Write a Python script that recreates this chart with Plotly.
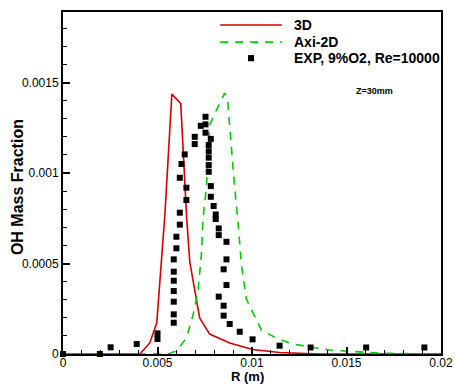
import plotly.graph_objects as go

# 3D simulation profile of OH mass fraction vs radius
r_3d = [0.0, 0.00407, 0.00459, 0.00496, 0.00539, 0.00576, 0.00623, 0.00655,
        0.00671, 0.00723, 0.00776, 0.00882, 0.01003, 0.01146, 0.01357, 0.02]
oh_3d = [0.0, 0.0, 0.000061, 0.000171, 0.000768, 0.001436, 0.001384, 0.00074,
         0.000508, 0.000199, 0.00011, 0.000061, 0.000025, 0.000008, 0.0, 0.0]

# Axisymmetric 2D simulation profile
r_2d = [0.0, 0.00554, 0.0060, 0.00653, 0.00688, 0.00714, 0.00732, 0.00741,
        0.00759, 0.00776, 0.00812, 0.00855, 0.00871, 0.00891, 0.00908, 0.00926,
        0.00944, 0.0097, 0.01014, 0.01049, 0.01129, 0.01215, 0.0141, 0.0169, 0.02]
oh_2d = [0.0, 0.0, 0.000017, 0.000088, 0.000215, 0.000343, 0.000547, 0.000751,
         0.000923, 0.001265, 0.001348, 0.001442, 0.001403, 0.001127, 0.000923,
         0.000729, 0.000492, 0.000304, 0.000204, 0.000133, 0.000088, 0.000055,
         0.000022, 0.000004, 0.0]

# Experimental measurements
r_exp = [0.0, 0.00195, 0.00252, 0.0039, 0.005, 0.005,
         0.00586, 0.00586, 0.00586, 0.00586, 0.00586, 0.00586, 0.00586,
         0.006, 0.006, 0.00618, 0.00618, 0.00618, 0.00653, 0.00653,
         0.00627, 0.00644, 0.00697, 0.00697, 0.00729,
         0.00754, 0.00754, 0.00754, 0.00782,
         0.00771, 0.00771, 0.00771, 0.00771, 0.00771,
         0.00782, 0.00782, 0.00797, 0.00808, 0.00808, 0.00824, 0.00824,
         0.00865, 0.00865, 0.00865, 0.0085, 0.0085, 0.0085, 0.00824,
         0.00882, 0.00935, 0.01003, 0.01146, 0.0131, 0.01604, 0.01912]
oh_exp = [0.0, 0.0, 0.000037, 0.000055, 0.000114, 0.000083,
          0.000523, 0.000455, 0.000405, 0.000348, 0.000289, 0.000219, 0.000173,
          0.000648, 0.000584, 0.000781, 0.000715, 0.000974, 0.000919, 0.000851,
          0.00105, 0.001103, 0.0012, 0.00116, 0.001261,
          0.001311, 0.001269, 0.001223, 0.001189,
          0.001155, 0.00112, 0.001085, 0.001044, 0.001007,
          0.000928, 0.000869, 0.000818, 0.000771, 0.000746, 0.000694, 0.000657,
          0.00062, 0.000523, 0.000381, 0.000468, 0.000267, 0.000212, 0.000317,
          0.000166, 0.000123, 0.000081, 0.000046, 0.000036, 0.000036, 0.000036]

series_names = ["3D", "Axi-2D", "EXP, 9%O2, Re=10000"]
x_ticks = [0, 0.005, 0.01, 0.015, 0.02]
x_tick_text = ["0", "0.005", "0.01", "0.015", "0.02"]
y_ticks = [0, 0.0005, 0.001, 0.0015]
y_tick_text = ["0", "0.0005", "0.001", "0.0015"]

FONT = "Liberation Sans, Arial, sans-serif"
RED = "#d40000"
GREEN = "#00cc00"

fig = go.Figure()
fig.add_trace(go.Scatter(x=r_3d, y=oh_3d, mode="lines", name=series_names[0],
                         line=dict(color=RED, width=1.6), showlegend=False))
fig.add_trace(go.Scatter(x=r_2d, y=oh_2d, mode="lines", name=series_names[1],
                         line=dict(color=GREEN, width=1.6, dash="8px,7px"),
                         showlegend=False))
fig.add_trace(go.Scatter(x=r_exp, y=oh_exp, mode="markers", name=series_names[2],
                         marker=dict(symbol="square", size=6, color="black"),
                         cliponaxis=False, showlegend=False))

# Hand-placed legend block in the upper right
legend_rows = [0.962, 0.912, 0.865]
sample_x0, sample_x1, text_x = 0.416, 0.579, 0.606
fig.add_shape(type="line", xref="paper", yref="paper", x0=sample_x0, x1=sample_x1,
              y0=legend_rows[0], y1=legend_rows[0], line=dict(color=RED, width=1.6))
fig.add_shape(type="line", xref="paper", yref="paper", x0=sample_x0, x1=sample_x1,
              y0=legend_rows[1], y1=legend_rows[1],
              line=dict(color=GREEN, width=1.6, dash="8px,7px"))
fig.add_shape(type="rect", xref="paper", yref="paper",
              x0=(sample_x0 + sample_x1) / 2 - 0.008, x1=(sample_x0 + sample_x1) / 2 + 0.008,
              y0=legend_rows[2] - 0.009, y1=legend_rows[2] + 0.009,
              fillcolor="black", line=dict(width=0))
for name, yrow in zip(series_names, legend_rows):
    fig.add_annotation(xref="paper", yref="paper", x=text_x, y=yrow, text=f"<b>{name}</b>",
                       showarrow=False, xanchor="left", yanchor="middle",
                       font=dict(family=FONT, size=14, color="black"))

fig.add_annotation(xref="paper", yref="paper", x=0.824, y=0.77, text="<b>Z=30mm</b>",
                   showarrow=False, xanchor="center", yanchor="middle",
                   font=dict(family=FONT, size=9, color="black"))

# Axis titles placed as annotations so they sit close to the tick labels
fig.add_annotation(xref="paper", yref="paper", x=0.488, y=-0.0906, text="<b>R (m)</b>",
                   showarrow=False, xanchor="center", yanchor="bottom", borderpad=0,
                   font=dict(family=FONT, size=13, color="black"))
fig.add_annotation(xref="paper", yref="paper", x=-0.1217, y=0.488,
                   text="<b>OH Mass Fraction</b>", textangle=-90,
                   showarrow=False, xanchor="center", yanchor="middle",
                   font=dict(family=FONT, size=16, color="black"))

axis_common = dict(showline=True, linecolor="black", linewidth=2, mirror=True,
                   ticks="inside", ticklen=7, tickwidth=1.5, tickcolor="black",
                   showgrid=False, zeroline=False, automargin=False,
                   tickfont=dict(family=FONT, size=12, color="black"))

fig.update_xaxes(range=[0, 0.02], tickvals=x_ticks, ticktext=x_tick_text,
                 ticklabelstandoff=-3,
                 minor=dict(dtick=0.001, ticks="inside", ticklen=4, tickwidth=1,
                            tickcolor="black"),
                 **axis_common)
fig.update_yaxes(range=[0, 0.00189], tickvals=y_ticks, ticktext=y_tick_text,
                 minor=dict(dtick=0.0001, ticks="inside", ticklen=4, tickwidth=1,
                            tickcolor="black"),
                 **axis_common)

fig.update_layout(width=455, height=385, margin=dict(l=63, r=14, t=12, b=31),
                  plot_bgcolor="white", paper_bgcolor="white",
                  font=dict(family=FONT, color="black"))

fig.write_html("out.html")
